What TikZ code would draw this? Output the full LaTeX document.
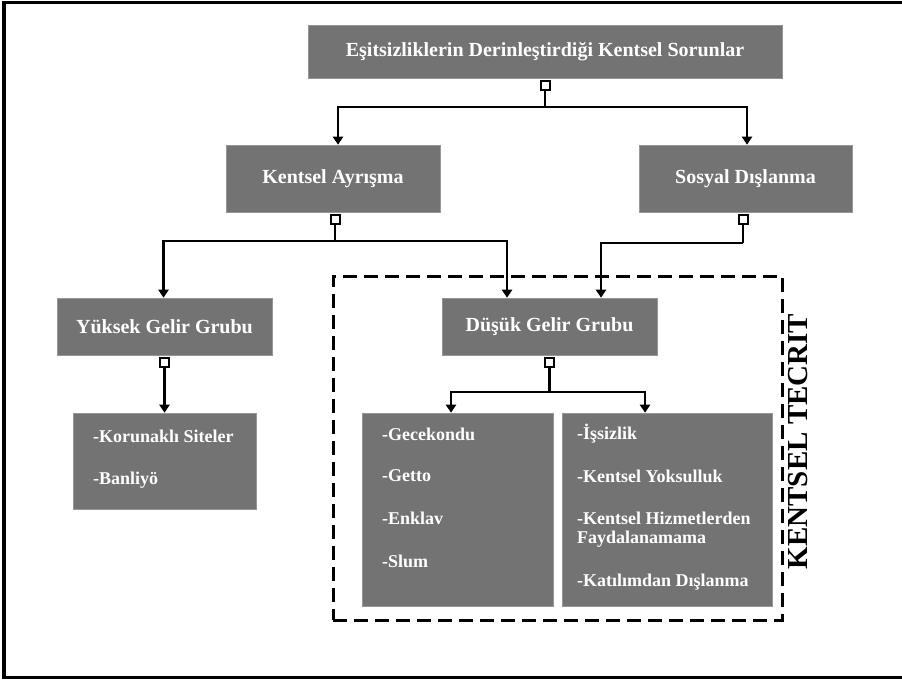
\documentclass[tikz,border=0pt]{standalone}
\usepackage{fontspec}
\setmainfont{Liberation Serif}
\usetikzlibrary{arrows.meta}
\definecolor{boxgray}{HTML}{737373}
\begin{document}
\begin{tikzpicture}[x=1pt,y=-1pt,
  gbox/.style={fill=boxgray, draw=boxgray!75!white, line width=0.6pt, inner sep=0pt},
  ttl/.style={text=white, font=\bfseries\fontsize{20}{23}\selectfont},
  itm/.style={text=white, font=\bfseries\fontsize{18}{21}\selectfont, anchor=west, inner sep=0pt},
  sqr/.style={draw=black, fill=white, line width=2pt, minimum size=9pt, inner sep=0pt},
  ln/.style={draw=black, line width=2.6pt},
  arr/.style={draw=black, line width=2.6pt, -{Triangle[width=10pt,length=8pt]}},
  dashbox/.style={draw=black, line width=3pt, dash pattern=on 14pt off 7pt, inner sep=0pt}
]
\useasboundingbox (0,0) rectangle (902,681);
% outer frame (open on the right)
\draw[line width=3.5pt] (902,2.5) -- (4,2.5) -- (4,677.5) -- (902,677.5);

% boxes
\node[gbox, minimum width=474pt, minimum height=53pt] (top) at (545,51.5) {};
\node[ttl] (topt) at (top.center) {Eşitsizliklerin Derinleştirdiği Kentsel Sorunlar};
\node[gbox, minimum width=214pt, minimum height=67pt] (ka) at (333,178.5) {};
\node[ttl] (kat) at (ka.center) {Kentsel Ayrışma};
\node[gbox, minimum width=213pt, minimum height=67pt] (sd) at (745.5,178.5) {};
\node[ttl] (sdt) at (sd.center) {Sosyal Dışlanma};
\node[gbox, minimum width=215pt, minimum height=57pt] (yg) at (164.5,326.5) {};
\node[ttl] (ygt) at (yg.center) {Yüksek Gelir Grubu};
\node[gbox, minimum width=215pt, minimum height=57pt] (dg) at (549.5,326.5) {};
\node[ttl] (dgt) at (dg.center) {Düşük Gelir Grubu};
\node[gbox, minimum width=183pt, minimum height=96pt] (ks) at (164.5,461) {};
\node[gbox, minimum width=191pt, minimum height=193pt] (gc) at (457.5,509.5) {};
\node[gbox, minimum width=210pt, minimum height=193pt] (is) at (667,509.5) {};

% list items
\node[itm] (k1) at (93,436) {-Korunaklı Siteler};
\node[itm] (k2) at (93,480) {-Banliyö};
\node[itm] (g1) at (382,434) {-Gecekondu};
\node[itm] (g2) at (382,476) {-Getto};
\node[itm] (g3) at (382,518) {-Enklav};
\node[itm] (g4) at (382,561) {-Slum};
\node[itm] (i1) at (577,434) {-İşsizlik};
\node[itm] (i2) at (577,476) {-Kentsel Yoksulluk};
\node[itm] (i3) at (577,518) {-Kentsel Hizmetlerden};
\node[itm] (i4) at (577,539) {Faydalanamama};
\node[itm] (i5) at (577,582) {-Katılımdan Dışlanma};

% dashed region and label
\node[dashbox, minimum width=449pt, minimum height=344pt] (tecrit) at (557.5,448) {};
\node[rotate=90, font=\bfseries\fontsize{29}{29}\selectfont, inner sep=0pt] (tecritt) at (798,441.5) {KENTSEL TECRIT};

% connector squares
\node[sqr, anchor=north] (s1) at ([yshift=-1.5pt]top.south) {};
\node[sqr, anchor=north] (s2) at ([xshift=2pt,yshift=-1.5pt]ka.south) {};
\node[sqr, anchor=north] (s3) at ([xshift=-2.5pt,yshift=-1.5pt]sd.south) {};
\node[sqr, anchor=north] (s4) at ([yshift=-1.5pt]yg.south) {};
\node[sqr, anchor=north] (s5) at ([yshift=-1.5pt]dg.south) {};

% branch points
\coordinate (b1) at (545,107);
\coordinate (b2) at (335,241);
\coordinate (b3) at (743,243);
\coordinate (b5) at (549.5,392);

% connectors
\draw[ln] (s1.south) -- (b1);
\draw[arr] (b1) -| ([xshift=5pt]ka.north);
\draw[arr] (b1) -| ([xshift=1.5pt]sd.north);

\draw[ln] (s2.south) -- (b2);
\draw[arr] (b2) -| ([xshift=-1pt]yg.north);
\draw[arr] (b2) -| ([xshift=-42.5pt]dg.north);

\draw[ln] (s3.south) -- (b3);
\draw[arr] (b3) -| ([xshift=51.5pt]dg.north);

\draw[arr] (s4.south) -- (ks.north);

\draw[ln] (s5.south) -- (b5);
\draw[arr] (b5) -| ([xshift=-6.5pt]gc.north);
\draw[arr] (b5) -| ([xshift=-22pt]is.north);
\end{tikzpicture}
\end{document}
